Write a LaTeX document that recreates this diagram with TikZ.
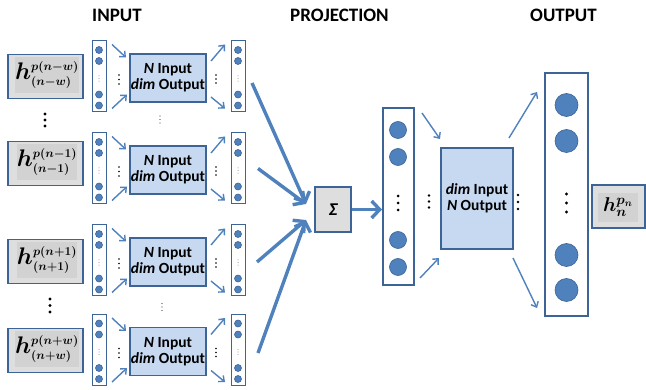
\documentclass[tikz,border=0pt]{standalone}
\usepackage{fontspec}
\setsansfont{Carlito}
\usepackage{fix-cm}
\usepackage{bm}
\DeclareMathSizes{24}{24}{12}{9.5}
\usetikzlibrary{arrows.meta}
\definecolor{cblue}{HTML}{4F81BD}
\definecolor{cdark}{HTML}{3C6496}
\definecolor{clight}{HTML}{C6D9F1}
\definecolor{cgray}{HTML}{DEDEDE}
\definecolor{cgrayin}{HTML}{D2D2D2}
\newcommand{\vdts}[5]{\fill[#5] (#1,#2-#3) circle (#4) (#1,#2) circle (#4) (#1,#2+#3) circle (#4);}
\tikzset{
  every node/.style={inner sep=0pt, outer sep=0pt},
  hbox/.style={draw=cdark, line width=1.5pt, fill=cgray, minimum width=75pt, minimum height=44pt},
  hlab/.style={fill=cgrayin, minimum width=58pt, minimum height=36pt, font=\fontsize{24}{24}\selectfont},
  smallcol/.style={draw=cdark, line width=1pt, fill=white, minimum width=14pt, minimum height=71pt},
  neuron/.style={circle, fill=cblue, draw=cdark, line width=0.6pt},
  nbox/.style={draw=cdark, line width=1.3pt, fill=clight, minimum width=76pt, minimum height=48pt, align=center, font=\sffamily\bfseries\fontsize{15.5}{16}\selectfont},
  sarr/.style={draw=cblue, line width=1.4pt, -{Straight Barb[length=4.5pt, width=8pt]}},
  barr/.style={draw=cblue, line width=3.4pt, -{Straight Barb[length=8pt, width=17pt]}},
  title/.style={font=\sffamily\bfseries\fontsize{19}{20}\selectfont, anchor=base}
}
\begin{document}
\begin{tikzpicture}[x=1pt, y=-1pt]
\useasboundingbox (0,0) rectangle (646,390);
\node[title] (tin) at (117,21.5) {INPUT};
\node[title] (tpr) at (339.5,21.5) {PROJECTION};
\node[title] (tout) at (563.5,21.5) {OUTPUT};
\foreach \i/\cy/\hy/\pa/\pb in {1/76.5/76.5/{p(n-w)}/{(n-w)}, 2/168.5/163.5/{p(n-1)}/{(n-1)}, 3/260.5/261.5/{p(n+1)}/{(n+1)}, 4/350/350.5/{p(n+w)}/{(n+w)}}{
  \node[hbox] (h\i) at (45.5,\hy) {};
  \node[hlab] (hl\i) at (47,\hy-1.5) {$\bm{h}^{\bm{\pa}}_{\bm{\pb}}$};
  \node[smallcol] (lc\i) at (99,\cy) {};
  \node[neuron, minimum size=7pt] (la\i) at (99,\cy-26.5) {};
  \node[neuron, minimum size=7pt] (lb\i) at (99,\cy-15.5) {};
  \node[neuron, minimum size=7pt] (lcc\i) at (99,\cy+18) {};
  \node[neuron, minimum size=7pt] (ld\i) at (99,\cy+29) {};
  \vdts{99}{\cy+2}{2.6}{0.5}{gray}
  \vdts{119}{\cy+3}{4.5}{0.9}{black}
  \node[nbox] (n\i) at (168,\cy+1.5) {{\itshape N} Input\\{\itshape dim} Output};
  \vdts{216}{\cy+2.5}{4}{0.9}{black}
  \node[smallcol] (rc\i) at (238,\cy) {};
  \node[neuron, minimum size=7pt] (ra\i) at (238,\cy-26.5) {};
  \node[neuron, minimum size=7pt] (rb\i) at (238,\cy-15.5) {};
  \node[neuron, minimum size=7pt] (rcc\i) at (238,\cy+18) {};
  \node[neuron, minimum size=7pt] (rd\i) at (238,\cy+29) {};
  \vdts{238}{\cy+2}{2.6}{0.5}{gray}
  \draw[sarr] ([shift={(6,3.5)}]lc\i.north east) -- ([shift={(-4,3.5)}]n\i.north west);
  \draw[sarr] ([shift={(6,-3.5)}]lc\i.south east) -- ([shift={(-3,-7.5)}]n\i.south west);
  \draw[sarr] ([shift={(5,7)}]n\i.north east) -- ([shift={(-6,3.5)}]rc\i.north west);
  \draw[sarr] ([shift={(5,-5)}]n\i.south east) -- ([shift={(-6,-3.5)}]rc\i.south west);
}
\vdts{45}{120}{6}{1.6}{black}
\vdts{50}{305.5}{6.5}{1.6}{black}
\vdts{160}{119.5}{3.5}{0.6}{darkgray}
\vdts{162}{307}{3.5}{0.6}{darkgray}
% projection
\node[draw=cdark, line width=1.3pt, fill=cgray, minimum width=36pt, minimum height=45pt, font=\sffamily\bfseries\itshape\fontsize{18}{18}\selectfont] (s) at (333,209.5) {Σ};
\draw[barr] ([shift={(7,6.5)}]rc1.east) -- ([shift={(-9,-5.5)}]s.west);
\draw[barr] ([shift={(13,0)}]rc2.east) -- ([shift={(-9,-5.5)}]s.west);
\draw[barr] ([shift={(12,1.5)}]rc3.east) -- ([shift={(-9,10.5)}]s.west);
\draw[barr] ([shift={(13,3)}]rc4.east) -- ([shift={(-9,10.5)}]s.west);
% middle column
\node[draw=cdark, line width=1.5pt, fill=white, minimum width=31pt, minimum height=177pt] (m) at (398.5,196.5) {};
\node[neuron, minimum size=17pt] (ma) at (398,130) {};
\node[neuron, minimum size=17pt] (mb) at (398,157) {};
\node[neuron, minimum size=17pt] (mc) at (398,240) {};
\node[neuron, minimum size=17pt] (md) at (398,267) {};
\vdts{398}{203}{7}{1.5}{black}
\draw[barr] ([shift={(1,0)}]s.east) -- ([shift={(-1,0)}]s.east -| m.west);
% dim box
\node[nbox, minimum width=72pt, minimum height=101pt] (d) at (477,198.5) {{\itshape dim} Input\\{\itshape N} Output};
\vdts{429}{201.5}{6}{1.4}{black}
\vdts{518}{202}{7}{1.4}{black}
\draw[sarr] ([shift={(8,5)}]m.north east) -- ([shift={(-1,-9)}]d.north west);
\draw[sarr] ([shift={(6,-7)}]m.south east) -- ([shift={(-2,9)}]d.south west);
% output column
\node[draw=cdark, line width=2pt, fill=white, minimum width=43pt, minimum height=243pt] (o) at (566.5,194.5) {};
\node[neuron, minimum size=23pt] (oa) at (566.5,105) {};
\node[neuron, minimum size=23pt] (ob) at (566.5,141) {};
\node[neuron, minimum size=23pt] (oc) at (566.5,255) {};
\node[neuron, minimum size=23pt] (od) at (566.5,290) {};
\vdts{566.5}{203}{9}{1.7}{black}
\draw[sarr] ([shift={(-4,-10)}]d.north east) -- ([shift={(-8,19)}]o.north west);
\draw[sarr] ([shift={(0,9)}]d.south east) -- ([shift={(-8,-8)}]o.south west);
% final output
\node[draw=cdark, line width=1.5pt, fill=cgray, minimum width=53pt, minimum height=43pt] (f) at (618.5,206.5) {};
\node[hlab, minimum width=40pt, minimum height=29pt, font=\fontsize{20}{20}\selectfont] (fl) at (618,207.5) {$\bm{h}_{\bm{n}}^{\bm{p_n}}$};
\end{tikzpicture}
\end{document}
